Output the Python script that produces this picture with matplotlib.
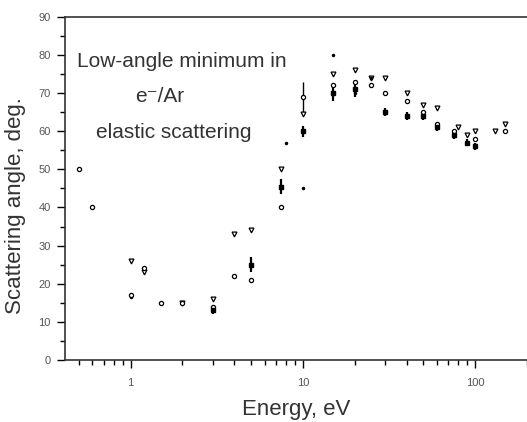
import matplotlib
matplotlib.use("Agg")
import matplotlib.pyplot as plt
from matplotlib.ticker import LogLocator, MultipleLocator, FixedFormatter, FixedLocator
import numpy as np

plt.rcParams['font.family'] = ['Liberation Sans', 'DejaVu Sans']

# open circles
energy_a = [0.5, 0.6, 1.0, 1.2, 1.5, 2.0, 3.0, 4.0, 5.0, 7.5, 10, 15, 20, 25, 30, 40, 50, 60, 75, 100, 150]
angle_a = [50, 40, 17, 24, 15, 15, 14, 22, 21, 40, 69, 72, 73, 72, 70, 68, 65, 62, 60, 58, 60]
err_a = [0, 0, 0, 0, 0, 0, 0, 0, 0, 0, 4, 0, 0, 0, 0, 0, 0, 0, 0, 0, 0]

# triangles down
energy_b = [1.0, 1.2, 2.0, 3.0, 4.0, 5.0, 7.5, 10, 15, 20, 25, 30, 40, 50, 60, 80, 90, 100, 130, 150]
angle_b = [26, 23, 15, 16, 33, 34, 50, 64.5, 75, 76, 74, 74, 70, 67, 66, 61, 59, 60, 60, 62]

# small filled points with error bars
energy_c = [3.0, 5.0, 7.5, 10, 15, 20, 30, 40, 50, 60, 75, 90, 100]
angle_c = [13, 25, 45.5, 60, 70, 71, 65, 64, 64, 61, 59, 57, 56]
err_c = [1, 2, 2, 1.5, 2, 2, 1, 1, 1, 1, 1, 1, 1]

# stray single points
energy_d = [1.0, 8.0, 10, 15, 20, 25]
angle_d = [16.5, 57, 45, 80, 70, 74]

fig = plt.figure(figsize=(5.27, 4.22), dpi=100)
ax = fig.add_axes([0.123, 0.147, 0.877, 0.813])

ax.errorbar(energy_a, angle_a, yerr=err_a, fmt='o', ms=3, mfc='white', mec='black',
            mew=0.9, ecolor='black', elinewidth=1.0, capsize=0)
ax.plot(energy_b, angle_b, 'v', ms=3.5, mfc='white', mec='black', mew=0.9)
ax.errorbar(energy_c, angle_c, yerr=err_c, fmt='s', ms=2.5, color='black',
            elinewidth=1.6, capsize=0)
ax.plot(energy_d, angle_d, '.', ms=3, color='black')

ax.set_xscale('log')
ax.set_xlim(0.415, 200)
ax.set_ylim(0, 90)

ax.xaxis.set_major_locator(FixedLocator([1, 10, 100]))
ax.xaxis.set_major_formatter(FixedFormatter(['1', '10', '100']))
ax.xaxis.set_minor_locator(LogLocator(base=10, subs=np.arange(2, 10)))
ax.xaxis.set_minor_formatter(FixedFormatter([]))
ax.yaxis.set_major_locator(MultipleLocator(10))
ax.yaxis.set_minor_locator(MultipleLocator(5))

ax.tick_params(which='major', direction='out', length=6, width=1.0, labelsize=8,
               labelcolor='#555555', pad=4)
ax.tick_params(which='minor', direction='out', length=3.5, width=1.0)
ax.tick_params(axis='x', which='major', pad=7)

ax.spines['right'].set_visible(False)
for side in ['left', 'bottom', 'top']:
    ax.spines[side].set_linewidth(1.2)
    ax.spines[side].set_color('#333333')

ax.set_xlabel('Energy, eV', fontsize=16, color='#333333', labelpad=8)
ax.set_ylabel('Scattering angle, deg.', fontsize=16, color='#333333')
ax.yaxis.set_label_coords(-0.083, 0.45)

ax.text(0.253, 0.869, 'Low-angle minimum in', transform=ax.transAxes, ha='center',
        va='center', fontsize=15, color='#333333')
ax.text(0.206, 0.767, 'e⁻/Ar', transform=ax.transAxes, ha='center',
        va='center', fontsize=15, color='#333333')
ax.text(0.236, 0.662, 'elastic scattering', transform=ax.transAxes, ha='center',
        va='center', fontsize=15, color='#333333')

fig.savefig('out.png', dpi=100)
